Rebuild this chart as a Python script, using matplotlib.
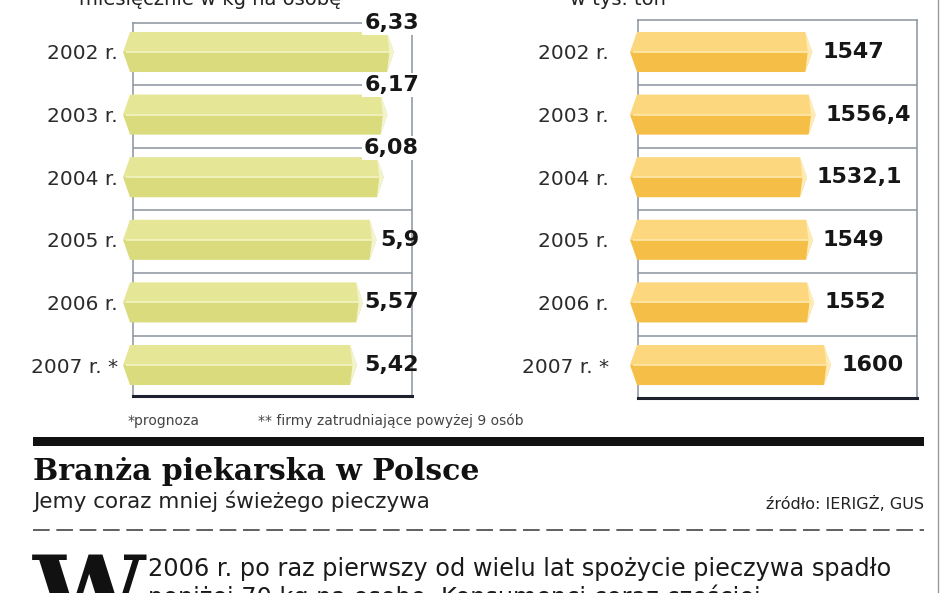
import numpy as np
import matplotlib.pyplot as plt
from matplotlib.patches import Polygon, Rectangle

# data
years = ["2002 r.", "2003 r.", "2004 r.", "2005 r.", "2006 r.", "2007 r. *"]
consumption = [6.33, 6.17, 6.08, 5.9, 5.57, 5.42]        # kg na osobę miesięcznie
production = [1547, 1556.4, 1532.1, 1549, 1552, 1600]     # tys. ton

W, H = 948, 593
fig = plt.figure(figsize=(W / 100, H / 100), dpi=100)
fig.patch.set_facecolor("white")

# full-figure canvas in pixel coords for the page decoration
canvas = fig.add_axes([0, 0, 1, 1], zorder=0)
canvas.set_xlim(0, W)
canvas.set_ylim(H, 0)
canvas.axis("off")


def px_axes(x0, x1, y0, y1):
    # axes placed by pixel box (y measured from top)
    return fig.add_axes([x0 / W, 1 - y1 / H, (x1 - x0) / W, (y1 - y0) / H], zorder=2)


def fmt(v):
    return ("%g" % v).replace(".", ",")


GRID = "#8c939e"


def draw_chart(ax, values, base, px_per_unit, c_top, c_bot, c_mid, c_cap, pad):
    n = len(values)
    tip = 7 / px_per_unit
    h = 0.64
    for i, v in enumerate(values):
        top, bot = i - h / 2, i + h / 2
        ax.add_patch(Polygon([(base - tip, i), (base, top), (v, top), (v + tip, i)],
                             closed=True, fc=c_top, ec="none", zorder=3, clip_on=False))
        ax.add_patch(Polygon([(base - tip, i), (base, bot), (v, bot), (v + tip, i)],
                             closed=True, fc=c_bot, ec="none", zorder=3, clip_on=False))
        ax.add_patch(Polygon([(v, top), (v + tip, i), (v, bot), (v + tip * 0.35, i)],
                             closed=True, fc=c_cap, ec="none", zorder=4, clip_on=False))
        ax.plot([base - tip * 0.6, v + tip * 0.6], [i, i], color=c_mid, lw=1.3,
                zorder=4, solid_capstyle="butt", clip_on=False)
    for i in range(1, n):
        ax.axhline(i - 0.47, color=GRID, lw=1.1, zorder=1)
    ax.set_yticks(range(n))
    ax.set_yticklabels(years, fontsize=14.5, color="#2b2b2b")
    ax.tick_params(axis="y", length=0, pad=pad)
    ax.set_xticks([])
    ax.set_facecolor("none")
    for s in ["left", "right", "top"]:
        ax.spines[s].set_color(GRID)
        ax.spines[s].set_linewidth(1.1)
    ax.spines["bottom"].set_color("#1e2230")
    ax.spines["bottom"].set_linewidth(2.2)


# left chart: spożycie pieczywa
axl = px_axes(133, 412, 23, 396)
l_scale, l_base = 40.6, 0.0
axl.set_xlim((133 - 130) / l_scale, (412 - 130) / l_scale)
axl.set_ylim(5.495, -0.463)
draw_chart(axl, consumption, l_base, l_scale, "#e6e697", "#d9db7d", "#f1f2bd", "#f2f3cf", 11)
for i, v in enumerate(consumption):
    above = v > 6.0
    axl.text((419 - 130) / l_scale, i - 0.47 if above else i, fmt(v), ha="right", va="center",
             fontsize=16, fontweight="bold", color="#161616", zorder=6,
             bbox=dict(fc="white", ec="none", pad=1.5) if above else None)

# right chart: produkcja
axr = px_axes(638, 917, 20, 398)
r_scale, r_base = 0.3535, 1071
axr.set_xlim(r_base + (638 - 637) / r_scale, r_base + (917 - 637) / r_scale)
axr.set_ylim(5.527, -0.511)
draw_chart(axr, production, r_base, r_scale, "#fcd77e", "#f5bf47", "#fee6a6", "#fdebb8", 21)
for i, v in enumerate(production):
    axr.text(v + 17 / r_scale, i, fmt(v), ha="left", va="center",
             fontsize=16, fontweight="bold", color="#161616", zorder=6)

# cut-off panel titles at the top edge
canvas.text(210, 5, "miesięcznie w kg na osobę", ha="center", va="baseline",
            fontsize=14, color="#222")
canvas.text(618, 5, "w tys. ton", ha="center", va="baseline", fontsize=14, color="#222")

# footnotes
canvas.text(128, 421, "*prognoza", ha="left", va="center", fontsize=10, color="#444")
canvas.text(258, 421, "** firmy zatrudniające powyżej 9 osób", ha="left", va="center",
            fontsize=10, color="#444")

# header block
canvas.add_patch(Rectangle((33, 437), 891, 9, fc="#111", ec="none"))
canvas.text(33, 480, "Branża piekarska w Polsce", ha="left", va="baseline",
            fontsize=21.5, fontweight="bold", family="DejaVu Serif", color="#111")
canvas.text(33, 508, "Jemy coraz mniej świeżego pieczywa", ha="left", va="baseline",
            fontsize=15.5, color="#222")
canvas.text(924, 509, "źródło: IERIGŻ, GUS", ha="right", va="baseline",
            fontsize=11.5, color="#222")
canvas.plot([33, 924], [530, 530], color="#444", lw=1.2, dashes=(10, 4))

# article start with drop cap
canvas.text(33, 627, "W", ha="left", va="baseline", fontsize=72, fontweight="bold",
            family="DejaVu Serif", color="#111")
canvas.text(148, 576, "2006 r. po raz pierwszy od wielu lat spożycie pieczywa spadło",
            ha="left", va="baseline", fontsize=17.3, color="#1a1a1a")
canvas.text(148, 605, "poniżej 70 kg na osobę. Konsumenci coraz częściej",
            ha="left", va="baseline", fontsize=17.3, color="#1a1a1a")

# page border on the right
canvas.plot([938, 938], [0, H], color="#9a9a9a", lw=1)

fig.savefig("out.png", dpi=100, facecolor="white")
